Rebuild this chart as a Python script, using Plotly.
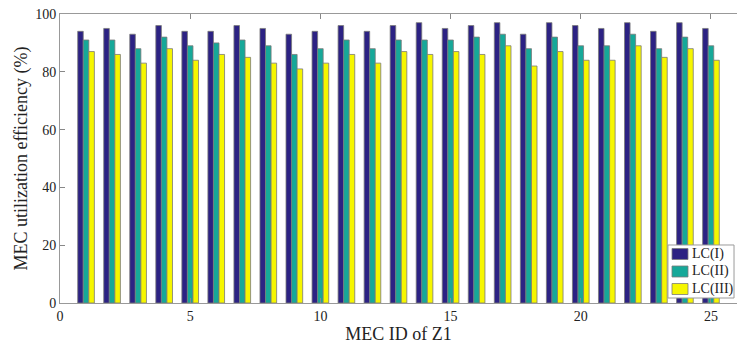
import plotly.graph_objects as go

# MEC utilization efficiency (%) for each MEC in zone Z1 under three load conditions
mec_ids = list(range(1, 26))
lc_i = [94, 95, 93, 96, 94, 94, 96, 95, 93, 94, 96, 94, 96, 97, 95, 96, 97, 93, 97, 96, 95, 97, 94, 97, 95]
lc_ii = [91, 91, 88, 92, 89, 90, 91, 89, 86, 88, 91, 88, 91, 91, 91, 92, 93, 88, 92, 89, 89, 93, 88, 92, 89]
lc_iii = [87, 86, 83, 88, 84, 86, 85, 83, 81, 83, 86, 83, 87, 86, 87, 86, 89, 82, 87, 84, 84, 89, 85, 88, 84]

series_names = ["LC(I)", "LC(II)", "LC(III)"]
series_colors = ["#2c2283", "#16a899", "#f6f600"]
x_ticks = [0, 5, 10, 15, 20, 25]
y_ticks = [0, 20, 40, 60, 80, 100]

font_family = "Liberation Serif, Times New Roman, serif"
edge_color = "#7a7a7a"

fig = go.Figure()
for name, vals, color in zip(series_names, [lc_i, lc_ii, lc_iii], series_colors):
    fig.add_trace(go.Bar(
        x=mec_ids, y=vals, name=name, showlegend=False,
        marker=dict(color=color, line=dict(color=edge_color, width=0.8)),
    ))

# Compact boxed legend in the lower-right corner of the axes (paper coordinates)
legend_shapes = [dict(
    type="rect", xref="paper", yref="paper", layer="above",
    x0=0.898, x1=0.9956, y0=0.0173, y1=0.2007,
    fillcolor="white", line=dict(color="#9a9a9a", width=1),
)]
legend_labels = []
row_y = [0.1696, 0.1090, 0.0484]
for name, color, yc in zip(series_names, series_colors, row_y):
    legend_shapes.append(dict(
        type="rect", xref="paper", yref="paper", layer="above",
        x0=0.904, x1=0.9276, y0=yc - 0.019, y1=yc + 0.019,
        fillcolor=color, line=dict(color=edge_color, width=0.8),
    ))
    legend_labels.append(dict(
        xref="paper", yref="paper", x=0.9306, y=yc, xanchor="left", yanchor="middle",
        text=name, showarrow=False,
        font=dict(family=font_family, size=14, color="#222222"),
    ))

fig.update_layout(
    width=737, height=347,
    margin=dict(l=60, r=0, t=14, b=44),
    paper_bgcolor="white", plot_bgcolor="white",
    barmode="group", bargap=0.36, bargroupgap=0,
    font=dict(family=font_family, size=14, color="#222222"),
    shapes=legend_shapes,
    annotations=legend_labels,
    xaxis=dict(
        range=[0, 26], tickvals=x_ticks, ticks="inside", ticklen=5,
        tickcolor="#888888", showline=True, linecolor="#999999", linewidth=1,
        mirror="ticks", showgrid=False, zeroline=False,
        title=dict(text="MEC ID of Z1", font=dict(size=18), standoff=4),
    ),
    yaxis=dict(
        range=[0, 100], tickvals=y_ticks, ticks="inside", ticklen=5,
        tickcolor="#888888", showline=True, linecolor="#999999", linewidth=1,
        showgrid=False, zeroline=False,
        title=dict(text="MEC utilization efficiency (%)", font=dict(size=18), standoff=2),
    ),
)

fig.write_html("out.html")
